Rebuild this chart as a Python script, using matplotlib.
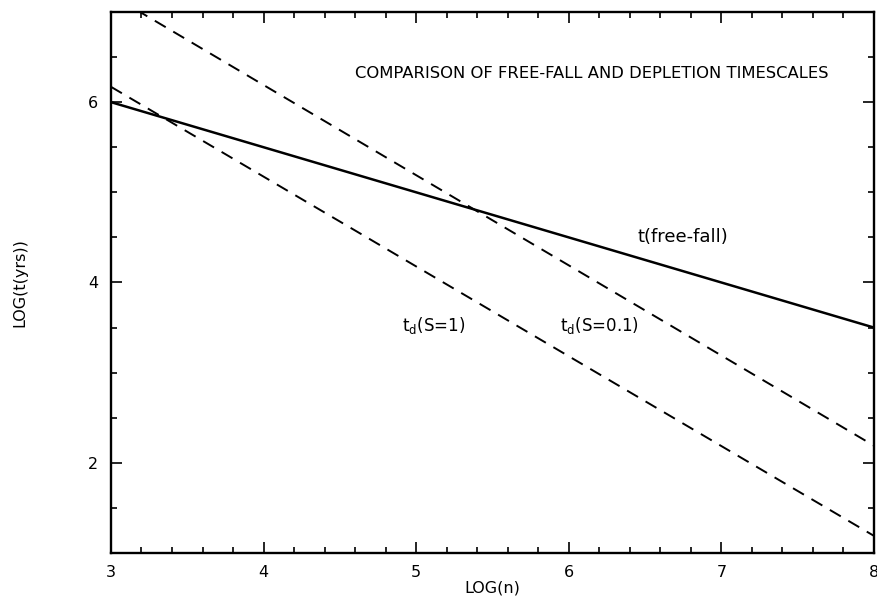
import numpy as np
import matplotlib
matplotlib.use("Agg")
import matplotlib.pyplot as plt
from matplotlib.ticker import MultipleLocator

# log density range
log_n = [3.0, 8.0]

# free-fall timescale (solid)
t_ff = [6.0, 3.5]
# depletion timescales (dashed)
t_d_s1 = [6.17, 1.19]
t_d_s01 = [7.19, 2.19]

plt.rcParams['font.family'] = ['DejaVu Sans']

fig = plt.figure(figsize=(8.78, 5.99), dpi=100)
ax = fig.add_axes([0.1264, 0.0768, 0.869, 0.9032])

ax.plot(log_n, t_ff, color='black', lw=1.8, solid_capstyle='butt')
ax.plot(log_n, t_d_s1, color='black', lw=1.4, dashes=(6.5, 4.5))
ax.plot(log_n, t_d_s01, color='black', lw=1.4, dashes=(6.5, 4.5))

ax.set_xlim(3, 8)
ax.set_ylim(1, 7)

ax.xaxis.set_major_locator(MultipleLocator(1))
ax.xaxis.set_minor_locator(MultipleLocator(0.2))
ax.yaxis.set_major_locator(MultipleLocator(2))
ax.yaxis.set_minor_locator(MultipleLocator(0.5))
ax.tick_params(which='both', direction='in', top=True, right=True,
               width=1.2, labelsize=11.5, color='black')
ax.tick_params(which='major', length=8)
ax.tick_params(which='minor', length=4)
ax.tick_params(axis='x', pad=9)
ax.tick_params(axis='y', pad=9)
for s in ax.spines.values():
    s.set_linewidth(1.7)

ax.set_xlabel('LOG(n)', fontsize=11.5, labelpad=0)
ax.set_ylabel('LOG(t(yrs))', fontsize=11.5, labelpad=44)

ax.text(0.320, 0.887, 'COMPARISON OF FREE-FALL AND DEPLETION TIMESCALES',
        transform=ax.transAxes, fontsize=11.8, va='center', ha='left')
ax.text(6.45, 4.51, 't(free-fall)', fontsize=13, va='center', ha='left')
ax.text(4.91, 3.52, r'$\mathregular{t_d}$(S=1)', fontsize=12, va='center', ha='left')
ax.text(5.94, 3.52, r'$\mathregular{t_d}$(S=0.1)', fontsize=12, va='center', ha='left')

fig.savefig('out.png', dpi=100)
